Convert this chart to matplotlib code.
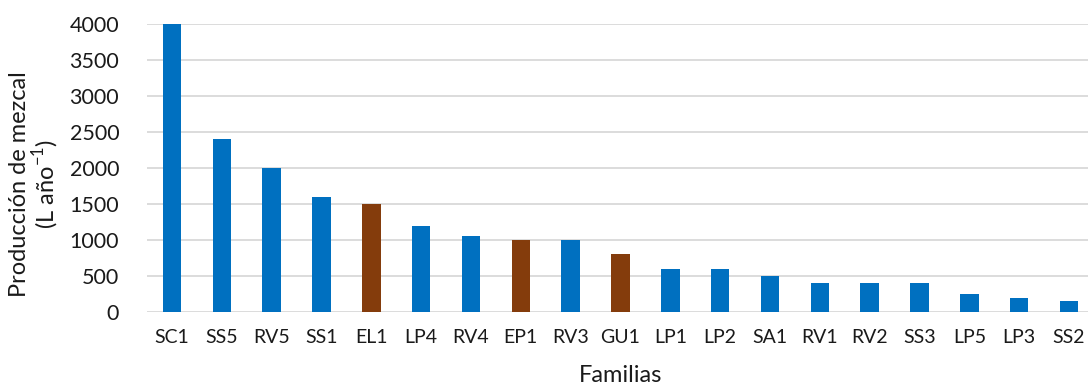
import matplotlib
matplotlib.use("Agg")
import matplotlib.pyplot as plt

families = ["SC1", "SS5", "RV5", "SS1", "EL1", "LP4", "RV4", "EP1", "RV3", "GU1",
            "LP1", "LP2", "SA1", "RV1", "RV2", "SS3", "LP5", "LP3", "SS2"]
production = [4000, 2400, 2000, 1600, 1500, 1200, 1050, 1000, 1000, 800,
              600, 600, 500, 400, 400, 400, 250, 200, 150]
highlighted = ["EL1", "EP1", "GU1"]

blue = "#0070C0"
brown = "#843C0C"
colors = [brown if f in highlighted else blue for f in families]

plt.rcParams["font.family"] = ["Lato", "DejaVu Sans"]
plt.rcParams["mathtext.fontset"] = "custom"
plt.rcParams["mathtext.rm"] = "Lato"

fig = plt.figure(figsize=(10.88, 3.86), dpi=100)
ax = fig.add_axes([147 / 1088, 1 - 312 / 386, (1094 - 147) / 1088, 288 / 386])

x = range(len(families))
ax.bar(x, production, width=0.37, color=colors, zorder=3)

ax.set_ylim(0, 4000)
ax.set_xlim(-0.5, len(families) - 0.5)
ax.set_yticks(range(0, 4001, 500))
ax.set_xticks(list(x))
ax.set_xticklabels(families)
ax.grid(axis="y", color="#D9D9D9", linewidth=1.3, zorder=0)
ax.set_axisbelow(True)
for s in ax.spines.values():
    s.set_visible(False)
ax.tick_params(axis="both", length=0, colors="#1a1a1a")
ax.tick_params(axis="x", pad=12, labelsize=14)
ax.tick_params(axis="y", pad=20, labelsize=15.5)

ax.set_ylabel("Producción de mezcal\n(L año$^{\\mathregular{-1}}$)", fontsize=17,
              color="#1a1a1a", linespacing=1.0)
ax.yaxis.set_label_coords(-0.091, 0.445)
ax.set_xlabel("Familias", fontsize=17, color="#1a1a1a", labelpad=14)

fig.savefig("out.png", dpi=100)
